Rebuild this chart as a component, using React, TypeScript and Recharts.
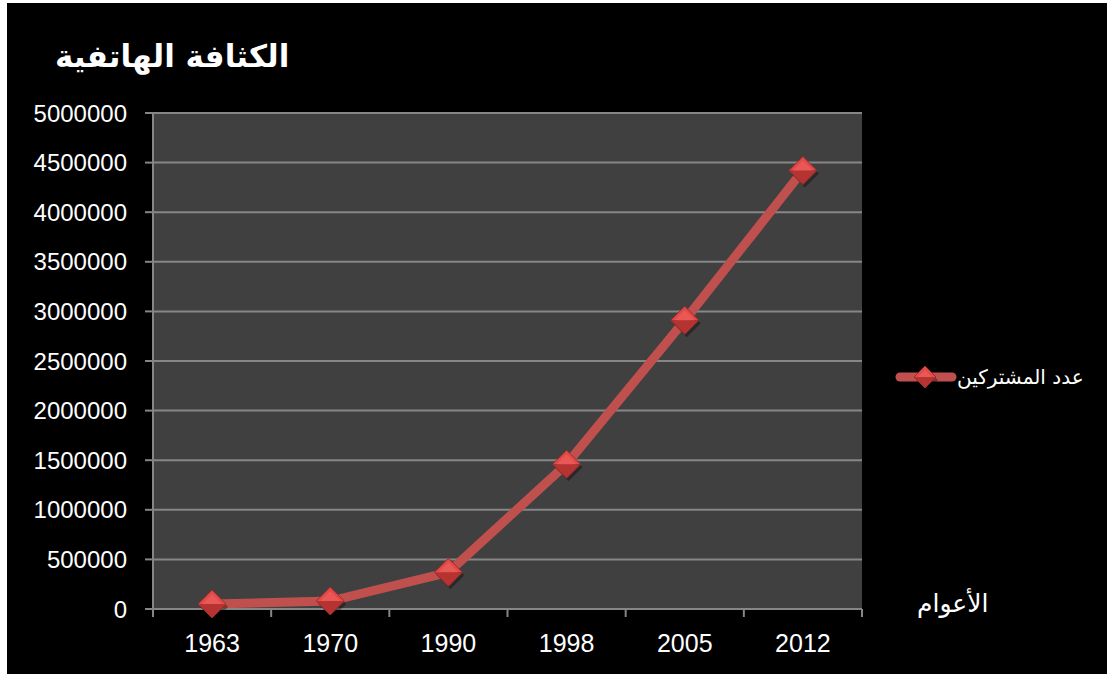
import React from 'react';
import {
  LineChart,
  Line,
  XAxis,
  YAxis,
  CartesianGrid,
  Legend
} from 'recharts';

const years = ['1963', '1970', '1990', '1998', '2005', '2012'];
const subscribers = [50000, 80000, 370000, 1460000, 2910000, 4420000];
const yTicks = [0, 500000, 1000000, 1500000, 2000000, 2500000, 3000000, 3500000, 4000000, 4500000, 5000000];

const seriesName = 'عدد المشتركين';
const chartTitle = 'الكثافة الهاتفية';
const xTitle = 'الأعوام';

const data = years.map((year, i) => ({ i, year, value: subscribers[i] }));

// ticks at band edges (tick marks) and band centres (labels)
const xTicks: number[] = [];
for (let k = 0; k <= years.length; k++) {
  xTicks.push(k - 0.5);
  if (k < years.length) xTicks.push(k);
}

const LINE = '#C0504D';
const AXIS = '#868686';
const LATIN = '"Liberation Sans", Arial, sans-serif';
const ARABIC = '"DejaVu Sans", "Liberation Sans", Arial, sans-serif';

const diamond = (cx: number, cy: number, r: number) => (
  <g>
    <polygon
      points={`${cx + 2},${cy - r + 3} ${cx + r + 2},${cy + 3} ${cx + 2},${cy + r + 3} ${cx - r + 2},${cy + 3}`}
      fill="#000"
      opacity={0.35}
    />
    <polygon points={`${cx - r},${cy} ${cx},${cy - r} ${cx + r},${cy}`} fill="#e04a48" />
    <polygon points={`${cx - r},${cy} ${cx + r},${cy} ${cx},${cy + r}`} fill="#b53432" />
    <polygon points={`${cx - r + 4},${cy} ${cx},${cy - r + 4} ${cx + r - 4},${cy}`} fill="#ea5856" />
    <polygon
      points={`${cx},${cy - r} ${cx + r},${cy} ${cx},${cy + r} ${cx - r},${cy}`}
      fill="none"
      stroke="#9e2b2a"
      strokeWidth={1}
    />
  </g>
);

const DiamondDot = (props: any) => {
  const { cx, cy, index } = props;
  if (cx == null || cy == null) return null;
  return <g key={`d-${index}`}>{diamond(cx, cy, 14)}</g>;
};

const XTick = (props: any) => {
  const { x, y, payload } = props;
  const v = payload.value as number;
  if (!Number.isInteger(v)) {
    return <line x1={x} y1={y} x2={x} y2={y + 8} stroke={AXIS} strokeWidth={2} />;
  }
  return (
    <text
      x={x}
      y={y + 34}
      textAnchor="middle"
      dominantBaseline="central"
      fill="#fff"
      fontSize={25}
      fontFamily={LATIN}
    >
      {years[v]}
    </text>
  );
};

const LegendContent = () => (
  <div style={{ display: 'flex', alignItems: 'center' }}>
    <svg width={62} height={32}>
      <line x1={5} y1={16} x2={57} y2={16} stroke={LINE} strokeWidth={9} strokeLinecap="round" />
      {diamond(30, 16, 11)}
    </svg>
    <span style={{ color: '#fff', fontSize: 20, fontFamily: ARABIC, direction: 'rtl' }}>{seriesName}</span>
  </div>
);

export default function App() {
  return (
    <div
      style={{
        position: 'absolute',
        left: 7,
        top: 3,
        width: 1100,
        height: 671,
        background: '#000'
      }}
    >
      <div
        style={{
          position: 'absolute',
          left: 48,
          top: 35,
          color: '#fff',
          fontSize: 31,
          fontWeight: 'bold',
          fontFamily: ARABIC,
          direction: 'rtl'
        }}
      >
        {chartTitle}
      </div>
      <div
        style={{
          position: 'absolute',
          left: 910,
          top: 586,
          color: '#fff',
          fontSize: 25,
          fontFamily: ARABIC,
          direction: 'rtl'
        }}
      >
        {xTitle}
      </div>
      <LineChart
        width={1100}
        height={671}
        data={data}
        margin={{ top: 110, right: 245, left: 46, bottom: 5 }}
      >
        <CartesianGrid
          vertical={false}
          fill="#404040"
          stroke={AXIS}
          strokeWidth={2}
          strokeOpacity={1}
        />
        <XAxis
          dataKey="i"
          type="number"
          domain={[-0.5, years.length - 0.5]}
          ticks={xTicks}
          interval={0}
          height={60}
          tickLine={false}
          tickSize={0}
          tickMargin={0}
          axisLine={{ stroke: AXIS, strokeWidth: 2 }}
          tick={<XTick />}
        />
        <YAxis
          type="number"
          domain={[0, 5000000]}
          ticks={yTicks}
          interval={0}
          width={100}
          tickSize={8}
          tickMargin={18}
          tickLine={{ stroke: AXIS, strokeWidth: 2 }}
          axisLine={{ stroke: AXIS, strokeWidth: 2 }}
          tick={{ fill: '#fff', fontSize: 24, fontFamily: LATIN }}
        />
        <Legend
          layout="horizontal"
          verticalAlign="middle"
          align="center"
          content={<LegendContent />}
          wrapperStyle={{ left: 888, top: 358, width: 210, height: 36 }}
        />
        <Line
          type="linear"
          dataKey="value"
          name={seriesName}
          stroke={LINE}
          strokeWidth={9}
          dot={<DiamondDot />}
          activeDot={false}
          isAnimationActive={false}
        />
      </LineChart>
    </div>
  );
}
